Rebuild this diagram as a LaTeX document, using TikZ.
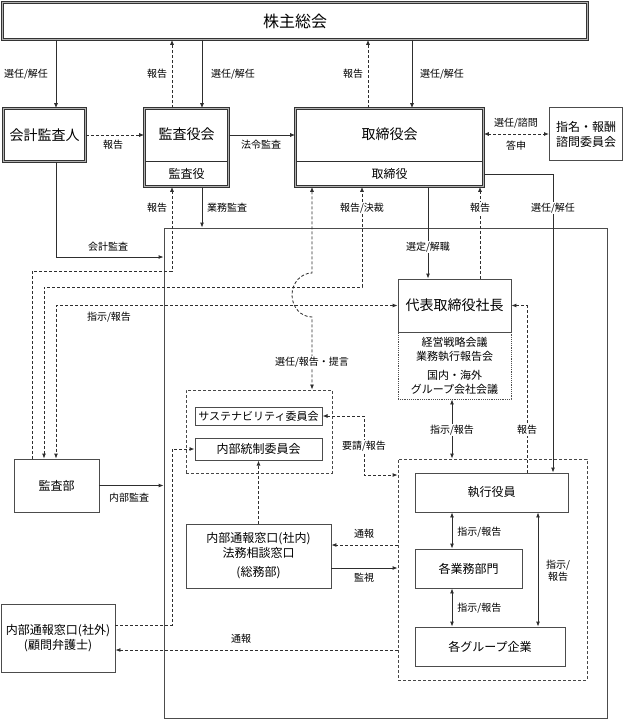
\documentclass[tikz,border=0pt]{standalone}
\usepackage{fontspec}
\setmainfont{Noto Sans CJK JP}
\usetikzlibrary{arrows.meta}

\begin{document}
\begin{tikzpicture}[x=1pt,y=-1pt,color=black!82,text=black,line width=0.85pt,
	>={Latex[length=5pt,width=4pt]},
	dbox/.style={draw=black!80,double=black!30,double distance=1.6pt,line width=0.6pt,inner sep=0pt},
	box/.style={draw=black!70,line width=0.85pt,inner sep=0pt},
	grp/.style={draw=black!72,dash pattern=on 3pt off 2pt,line width=0.85pt,inner sep=0pt},
	dsh/.style={dash pattern=on 3pt off 2pt},
	lbl/.style={fill=white,inner sep=1pt,font=\fontsize{10}{12}\selectfont},
	big/.style={font=\fontsize{14}{16}\selectfont},
	mid/.style={font=\fontsize{12}{15}\selectfont},
	sml/.style={font=\fontsize{11}{14}\selectfont}]
	\useasboundingbox (0,0) rectangle (624,720);

	% governance level
	\node[dbox,minimum width=585pt,minimum height=37pt,font=\fontsize{16}{18}\selectfont] (gm) at (295,21) {株主総会};
	\node[dbox,minimum width=82pt,minimum height=53pt,big] (ca) at (44.5,135) {会計監査人};
	\node[dbox,minimum width=84pt,minimum height=78pt] (ka) at (186.5,147.5) {};
	\node[big] (kat) at (186.5,134) {監査役会};
	\node[mid] (kas) at (186.5,174) {監査役};
	\draw[shorten <=1.4pt,shorten >=1.4pt] (ka.west |- 0,161) -- (ka.east |- 0,161);
	\node[dbox,minimum width=188pt,minimum height=78pt] (tb) at (389.5,147.5) {};
	\node[big] (tbt) at (389.5,134) {取締役会};
	\node[mid] (tbs) at (389.5,174) {取締役};
	\draw[shorten <=1.4pt,shorten >=1.4pt] (tb.west |- 0,161) -- (tb.east |- 0,161);
	\node[box,line width=1pt,minimum width=73pt,minimum height=53pt,mid,align=center] (nc) at (586,134) {指名・報酬\\諮問委員会};

	% company
	\node[box,minimum width=443pt,minimum height=490pt] (co) at (385.5,473) {};
	\node[box,minimum width=113pt,minimum height=53pt,big] (dh) at (454.5,305.5) {代表取締役社長};
	\node[draw=black!70,densely dotted,line width=0.85pt,minimum width=113pt,minimum height=67pt,sml,align=center] (mt) at (454.5,365.5) {経営戦略会議\\業務執行報告会\\[5pt]国内・海外\\グループ会社会議};
	\node[grp,minimum width=146pt,minimum height=83pt] (cm) at (259,431.5) {};
	\node[box,line width=1pt,minimum width=127pt,minimum height=18pt,sml] (sc) at (258.5,416) {サステナビリティ委員会};
	\node[box,line width=1pt,minimum width=127pt,minimum height=22pt,mid] (ic) at (258.5,449) {内部統制委員会};
	\node[grp,minimum width=189pt,minimum height=221pt] (eg) at (492.5,569.5) {};
	\node[box,minimum width=153pt,minimum height=39pt,mid] (ex) at (491.5,492.5) {執行役員};
	\node[box,minimum width=107pt,minimum height=39pt,mid] (dp) at (468.5,568.5) {各業務部門};
	\node[box,minimum width=150pt,minimum height=39pt,mid] (gr) at (490,646.5) {各グループ企業};
	\node[box,minimum width=85pt,minimum height=53pt,mid] (bu) at (56.5,485.5) {監査部};
	\node[box,minimum width=145pt,minimum height=64pt,mid,align=center] (wi) at (258.5,556) {内部通報窓口(社内)\\法務相談窓口\\[4pt](総務部)};
	\node[box,minimum width=114pt,minimum height=68pt,mid,align=center] (so) at (58,638) {内部通報窓口(社外)\\(顧問弁護士)};

	% top connectors
	\draw[->] (gm.south -| 56,0) -- (ca.north -| 56,0);
	\draw[->,dsh] (ka.north -| 172,0) -- (gm.south -| 172,0);
	\draw[->] (gm.south -| 202,0) -- (ka.north -| 202,0);
	\draw[->,dsh] (tb.north -| 368,0) -- (gm.south -| 368,0);
	\draw[->] (gm.south -| 412,0) -- (tb.north -| 412,0);
	\draw[->,dsh] (ca.east) -- (ka.west |- ca.east);
	\draw[->] (ka.east |- ca.east) -- (tb.west |- ca.east);
	\draw[<->,dsh] (tb.east |- nc.west) -- (nc.west);

	% board to company
	\draw[->,dsh] (bu.north -| 32,0) -- (32,271) -- (172,271) -- (ka.south -| 172,0);
	\draw[->] (ka.south -| 202,0) -- (co.north -| 202,0);
	\draw[->] (ca.south -| 56,0) -- (56,257) -- (co.west |- 0,257);
	\draw[<->,dsh] (bu.north -| 44,0) -- (44,287) -- (362,287) -- (tb.south -| 362,0);
	\draw[<->,dsh] (dh.west) -- (56,305.5) -- (bu.north -| 56,0);
	\draw[<->,dsh] (tb.south -| 312,0) -- (312,273) arc[start angle=90,end angle=270,x radius=20pt,y radius=22pt] -- (cm.north -| 312,0);
	\draw[->] (tb.south -| 428,0) -- (dh.north -| 428,0);
	\draw[->,dsh] (dh.north -| 480,0) -- (tb.south -| 480,0);
	\draw[->] (tbs.east -| tb.east) -- (553,174) -- (ex.north -| 553,0);
	\draw[->,dsh] (ex.north -| 527,0) -- (527,305.5) -- (dh.east);
	\draw[<->] (mt.south -| 452,0) -- (eg.north -| 452,0);

	% inside the company
	\draw[<->,dsh] (sc.east) -- (364,416) -- (364,475) -- (eg.west |- 0,475);
	\draw[->,dsh] (so.east |- 0,625) -- (172,625) -- (172,449) -- (ic.west);
	\draw[->] (bu.east) -- (co.west |- bu.east);
	\draw[->,dsh] (eg.west |- 0,545) -- (wi.east |- 0,545);
	\draw[->] (wi.east |- 0,568) -- (eg.west |- 0,568);
	\draw[->,dsh] (wi.north) -- (ic.south);
	\draw[<->] (ex.south -| 452,0) -- (dp.north -| 452,0);
	\draw[<->] (dp.south -| 452,0) -- (gr.north -| 452,0);
	\draw[<->] (ex.south -| 538,0) -- (gr.north -| 538,0);
	\draw[->,dsh] (eg.west |- 0,650) -- (so.east |- 0,650);

	% labels
	\node[lbl] (l1) at (26,74) {選任/解任};
	\node[lbl] (l2) at (157,74) {報告};
	\node[lbl] (l3) at (233,74) {選任/解任};
	\node[lbl] (l4) at (353,74) {報告};
	\node[lbl] (l5) at (442,74) {選任/解任};
	\node[lbl] (l6) at (113,145) {報告};
	\node[lbl] (l7) at (261,145) {法令監査};
	\node[lbl] (l8) at (516,123) {選任/諮問};
	\node[lbl] (l9) at (516,146) {答申};
	\node[lbl] (l10) at (157,208) {報告};
	\node[lbl] (l11) at (227,208) {業務監査};
	\node[lbl] (l12) at (362,208) {報告/決裁};
	\node[lbl] (l13) at (480,208) {報告};
	\node[lbl] (l14) at (553,208) {選任/解任};
	\node[lbl] (l15) at (108,247) {会計監査};
	\node[lbl] (l16) at (428,247) {選定/解職};
	\node[lbl] (l17) at (109,317) {指示/報告};
	\node[lbl] (l18) at (312,362) {選任/報告・提言};
	\node[lbl] (l19) at (452,430) {指示/報告};
	\node[lbl] (l20) at (527,430) {報告};
	\node[lbl] (l21) at (364,446) {要請/報告};
	\node[lbl] (l22) at (129,498) {内部監査};
	\node[lbl,anchor=west] (l23) at (456,532) {指示/報告};
	\node[lbl] (l24) at (364,534) {通報};
	\node[lbl,align=center] (l25) at (558,571) {指示/\\報告};
	\node[lbl] (l26) at (364,578) {監視};
	\node[lbl,anchor=west] (l27) at (456,608) {指示/報告};
	\node[lbl] (l28) at (241,639) {通報};
\end{tikzpicture}
\end{document}
